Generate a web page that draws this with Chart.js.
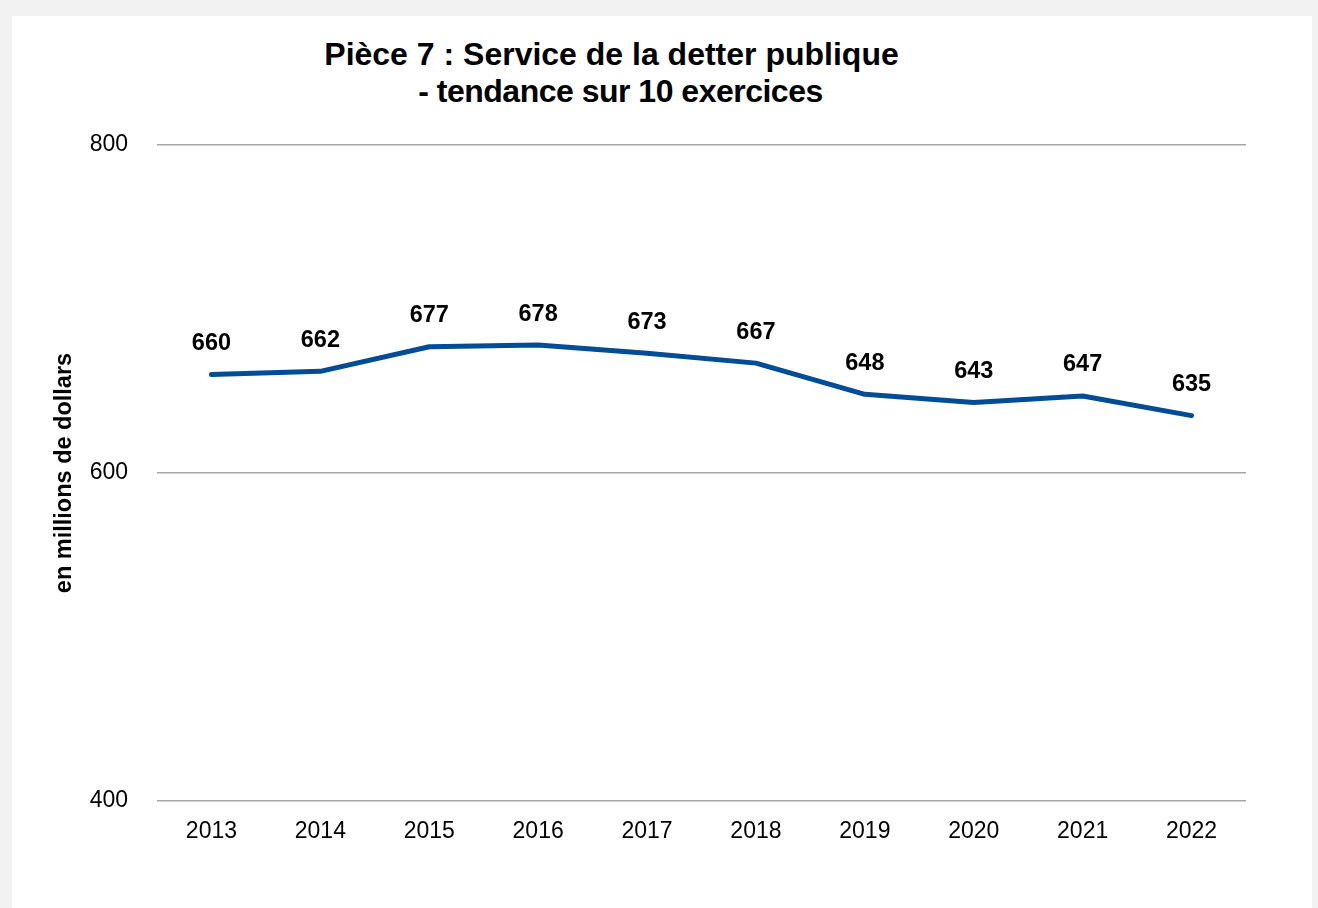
<!DOCTYPE html>
<html>
<head>
<meta charset="utf-8">
<script src="https://cdn.jsdelivr.net/npm/chart.js@4.4.1/dist/chart.umd.min.js"></script>
<style>
  html, body { margin: 0; padding: 0; background: #f2f2f2; }
  body { width: 1318px; height: 908px; position: relative; overflow: hidden; font-family: "Liberation Sans", Arial, sans-serif; }
  #panel { position: absolute; left: 12px; top: 16px; width: 1300px; height: 892px; background: #fff; }
  .titre { position: absolute; left: 0; text-align: center; font-weight: bold; font-size: 32px; line-height: 37px; color: #000; white-space: nowrap; }
  #titre1 { width: 1199px; top: 20px; }
  #titre2 { width: 1217px; top: 57px; letter-spacing: -0.5px; }
  canvas { position: absolute; left: 0; top: 0; }
</style>
</head>
<body>
<div id="panel">
  <div class="titre" id="titre1">Pièce 7 : Service de la detter publique</div>
  <div class="titre" id="titre2">- tendance sur 10 exercices</div>
  <canvas id="graphique" width="1300" height="892"></canvas>
</div>
<script>
// Données
const annees = ['2013', '2014', '2015', '2016', '2017', '2018', '2019', '2020', '2021', '2022'];
const serviceDette = [660, 662, 677, 678, 673, 667, 648, 643, 647, 635];
const graduations = [400, 600, 800];

const police = '"Liberation Sans", Arial, sans-serif';

// Étiquettes de valeur au-dessus des points
const etiquettes = {
    id: 'etiquettes',
    afterDatasetsDraw(chart) {
        const ctx = chart.ctx;
        const meta = chart.getDatasetMeta(0);
        ctx.save();
        ctx.font = 'bold 23.5px ' + police;
        ctx.fillStyle = '#000';
        ctx.textAlign = 'center';
        ctx.textBaseline = 'middle';
        meta.data.forEach((pt, i) => {
            ctx.fillText(serviceDette[i], pt.x, pt.y - 31);
        });
        ctx.restore();
    }
};

new Chart(document.getElementById('graphique'), {
    type: 'line',
    data: {
        labels: annees,
        datasets: [{
            data: serviceDette,
            borderColor: '#004c97',
            borderWidth: 5,
            pointRadius: 0,
            tension: 0,
            borderCapStyle: 'round',
            borderJoinStyle: 'round',
        }],
    },
    options: {
        responsive: false,
        animation: false,
        layout: { padding: { top: 129, right: 66, left: 0, bottom: 0 } },
        plugins: {
            legend: { display: false },
            tooltip: { enabled: false },
        },
        scales: {
            x: {
                offset: true,
                grid: { display: false, drawTicks: false },
                border: { display: false },
                ticks: { color: '#000', font: { family: police, size: 23 }, padding: 17, maxRotation: 0 },
                afterFit: s => { s.height = 107; },
            },
            y: {
                min: 400,
                max: 800,
                afterBuildTicks: s => { s.ticks = graduations.map(v => ({ value: v })); },
                grid: { color: '#a6a6a6', lineWidth: 1.5, drawTicks: false },
                border: { display: false },
                ticks: { color: '#000', font: { family: police, size: 23 }, padding: 29 },
                title: {
                    display: true,
                    text: 'en millions de dollars',
                    color: '#000',
                    font: { family: police, size: 23.5, weight: 'bold' },
                    padding: { top: 38, bottom: 0 },
                },
                afterFit: s => { s.width = 145; },
            },
        },
    },
    plugins: [etiquettes],
});
</script>
</body>
</html>
